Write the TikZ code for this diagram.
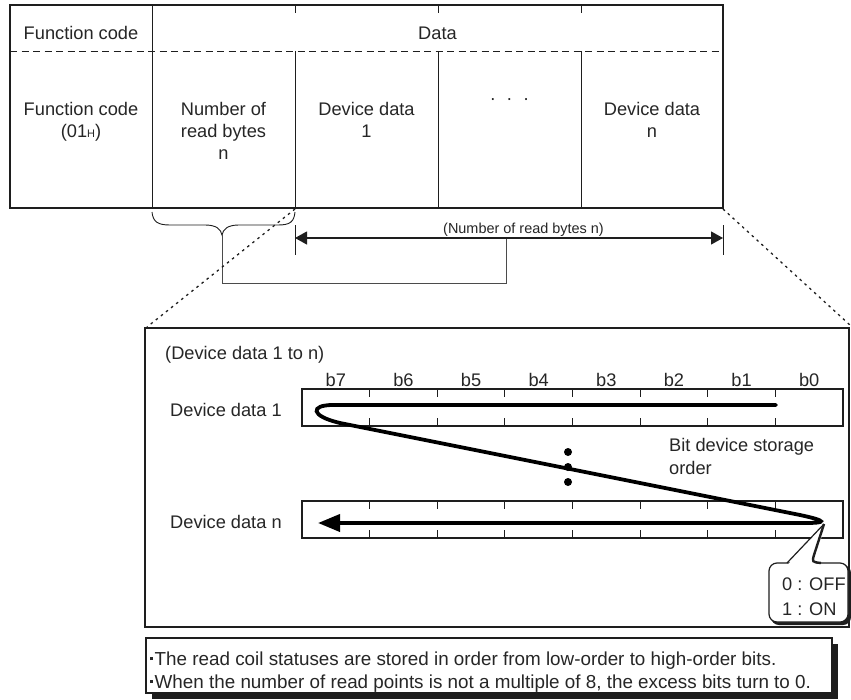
\documentclass[tikz,border=0pt]{standalone}
\usepackage{fontspec}
\setmainfont{Liberation Sans}
\usetikzlibrary{arrows.meta}
\definecolor{ink}{HTML}{1E1E1E}
\definecolor{txtc}{HTML}{262626}
\begin{document}
\begin{tikzpicture}[x=1bp,y=-1bp,
  lbl/.style={inner sep=0pt, text=txtc, font=\fontsize{18.3}{22.5}\selectfont},
  small/.style={inner sep=0pt, text=txtc, font=\fontsize{14.5}{17}\selectfont},
  note/.style={inner sep=0pt, text=txtc, font=\fontsize{18.9}{23}\selectfont},
  frame/.style={draw=ink, line width=2.6},
  thinline/.style={draw=ink, line width=0.9},
  regbox/.style={draw=ink, line width=1.3},
  dotline/.style={draw=ink, line width=1.3, dash pattern=on 2.5bp off 4bp},
  flow/.style={draw=black, line width=3.8, line cap=round}
]
\useasboundingbox (0,0) rectangle (851,700);
\fill[white] (0,0) rectangle (851,700);

% ---------------- message table ----------------
\draw[frame] (10,5) rectangle (723,208);
\draw[thinline, line width=0.8, dash pattern=on 7bp off 4.5bp] (10,51) -- (723,51);
\draw[thinline] (152,5) -- (152,208);
\foreach \xx in {295,438,581}{
  \draw[thinline] (\xx,5) -- (\xx,13);
  \draw[thinline] (\xx,51) -- (\xx,208);
}
\node[lbl, anchor=base] (hfc) at (81,40) {Function code};
\node[lbl, anchor=base] (hdata) at (437.5,40) {Data};
% anchor=base of a multi-line node is the baseline of its last line
\node[lbl, anchor=base, align=center] (cfc) at (81,137.5) {Function code\\(01{\fontsize{11}{11}\selectfont H})};
\node[lbl, anchor=base, align=center] (cnb) at (223.5,160) {Number of\\read bytes\\n};
\node[lbl, anchor=base, align=center] (cd1) at (366.5,137.5) {Device data\\1};
\node[lbl, anchor=base] (cdots) at (509.5,104.5) {·\hspace{10.6bp}·\hspace{10.6bp}·};
\node[lbl, anchor=base, align=center] (cdn) at (652,137.5) {Device data\\n};

% ---------------- brace and byte-count dimension ----------------
\coordinate (brT) at (222,235);
\coordinate (dimL) at (295,238);
\coordinate (dimR) at (723,238);
\coordinate (dimM) at (506,238);
\draw[thinline] (152,212) .. controls (153,222) and (158,225) .. (170,225) -- (205,225)
  .. controls (216,225) and (221,229) .. (brT)
  .. controls (223,229) and (228,225) .. (239,225) -- (278,225)
  .. controls (290,225) and (294,222) .. (295,212);
\draw[draw=ink!80, line width=0.9] (brT) -- (222,283) -| (dimM);
\draw[thinline, line width=1.1, {Triangle[length=12bp,width=13bp]}-{Triangle[length=12bp,width=13bp]}] (dimL) -- (dimR);
\draw[thinline] (295,225) -- (295,255);
\draw[thinline] (723,225) -- (723,255);
\node[small, anchor=base] (dimlbl) at (523.5,233) {(Number of read bytes n)};

% ---------------- zoom lines ----------------
\draw[dotline] (295,209) -- (147,327);
\draw[dotline] (723,209) -- (851,326);

% ---------------- detail panel ----------------
\draw[frame, line width=2.4] (145,328) rectangle (849,627);
\node[lbl, anchor=base west] (ptitle) at (165,359) {(Device data 1 to n)};
\foreach \b [count=\i from 0] in {b7,b6,b5,b4,b3,b2,b1,b0}{
  \node[lbl, anchor=base] (bit\i) at ({335.8+67.625*\i},386) {\b};
}
\node[lbl, anchor=base west] (dd1) at (170,416) {Device data 1};
\node[lbl, anchor=base west] (ddn) at (170,528) {Device data n};
\draw[regbox] (302,389) rectangle (843,426);
\draw[regbox] (302,501) rectangle (843,538);
\foreach \i in {1,...,7}{
  \draw[regbox, line width=1] ({302+67.625*\i},389) -- ++(0,8);
  \draw[regbox, line width=1] ({302+67.625*\i},426) -- ++(0,-8);
  \draw[regbox, line width=1] ({302+67.625*\i},501) -- ++(0,8);
  \draw[regbox, line width=1] ({302+67.625*\i},538) -- ++(0,-8);
}
\draw[flow, -{Triangle[length=22bp,width=17bp]}] (776,405) -- (333,405)
  .. controls (310,405) and (310,416) .. (340,423) -- (800,515)
  .. controls (828,521) and (826,523) .. (805,523) -- (318,523);
\fill[black] (568,452) circle (4);
\fill[black] (568,467) circle (4);
\fill[black] (568,482) circle (4);
\node[lbl, anchor=base west, align=left] (order) at (669,474) {Bit device storage\\order};

% callout
\fill[ink, rounded corners=8] (771,565) rectangle (851,625);
\draw[draw=ink, fill=white, line width=1.2, rounded corners=8] (769,563) rectangle (848,622);
\fill[white] (788,564.5) -- (824,524) -- (816,564.5) -- cycle;
\coordinate (ctip) at (824,524);
\draw[draw=ink, line width=1.2] (787,563) -- (ctip);
\draw[draw=ink, line width=2.4] (ctip) -- (814,555) .. controls (812,562) .. (821,563);
\node[lbl, anchor=base west] (off) at (782,590) {0 : OFF};
\node[lbl, anchor=base west] (on) at (782,615) {1 : ON};

% ---------------- note box ----------------
\fill[ink] (152,644) rectangle (838,699);
\draw[draw=ink, fill=white, line width=1.2] (146,638) rectangle (832,693);
\node[note, anchor=base west] (n1) at (150,665) {\rule[5bp]{3bp}{3bp}\hspace{1.5bp}The read coil statuses are stored in order from low-order to high-order bits.};
\node[note, anchor=base west] (n2) at (150,688) {\rule[5bp]{3bp}{3bp}\hspace{1.5bp}When the number of read points is not a multiple of 8, the excess bits turn to 0.};
\end{tikzpicture}
\end{document}
